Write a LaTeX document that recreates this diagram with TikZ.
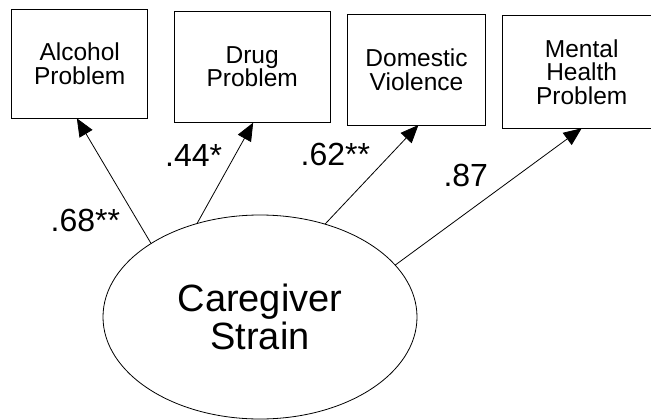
\documentclass[tikz,border=0pt]{standalone}
\usepackage{fontspec}
\setmainfont{Liberation Sans}
\usetikzlibrary{shapes.geometric,arrows.meta}
\begin{document}
\begin{tikzpicture}[x=1pt,y=-1pt,
  obs/.style={draw,line width=0.8pt,inner sep=0pt,outer sep=0pt,align=center,
    font=\fontsize{24.5}{23.5}\selectfont},
  lat/.style={draw,ellipse,line width=0.8pt,inner sep=0pt,outer sep=0pt,
    minimum width=314pt,minimum height=204pt,align=center,
    font=\fontsize{38}{38}\selectfont},
  path/.style={line width=0.8pt,-{Triangle[length=18pt,width=15pt]}},
  coef/.style={inner sep=0pt,font=\fontsize{32}{32}\selectfont}]
\useasboundingbox (0,0) rectangle (651,420);
\node[obs,minimum width=136pt,minimum height=109pt] (alc) at (79.7,63.8) {Alcohol\\Problem};
\node[obs,minimum width=155.7pt,minimum height=111.7pt] (drug) at (252.2,66.8) {Drug\\Problem};
\node[obs,minimum width=138.4pt,minimum height=111pt] (dom) at (416.5,69.5) {Domestic\\Violence};
\node[obs,minimum width=158.8pt,minimum height=112.6pt] (men) at (581.7,72) {Mental\\Health\\Problem};
\node[lat] (cs) at (260,317) {Caregiver\\Strain};
\draw[path] (cs.146) -- (alc.267);
\draw[path] (cs.124) -- (drug.271);
\draw[path] (cs.55) -- (dom.272);
\draw[path] (cs.21) -- (men.south);
\node[coef] (c1) at (85.3,220) {.68**};
\node[coef] (c2) at (193.7,155.3) {.44*};
\node[coef] (c3) at (335.3,154.5) {.62**};
\node[coef] (c4) at (465.8,175) {.87};
\end{tikzpicture}
\end{document}
